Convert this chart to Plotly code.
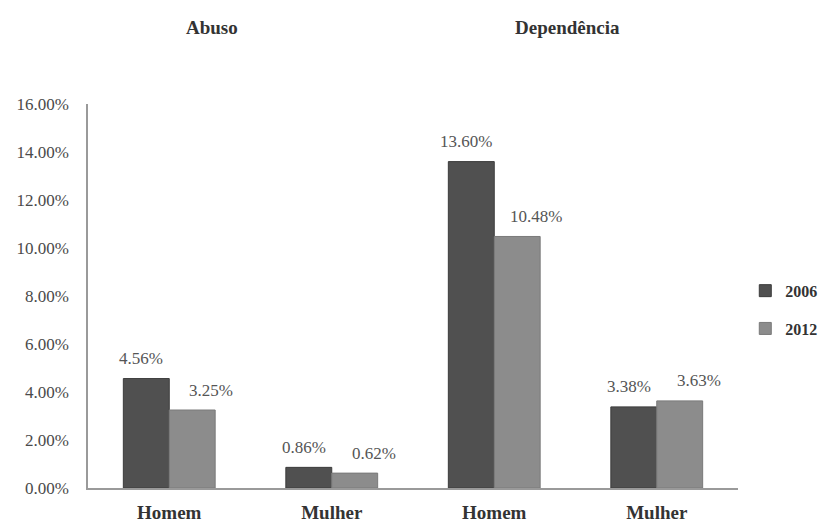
import plotly.graph_objects as go

# Prevalence of alcohol abuse and dependence by sex, 2006 vs 2012
groups = ["Abuso", "Dependência"]
sexes = ["Homem", "Mulher"]
categories = ["Abuso|Homem", "Abuso|Mulher", "Dependência|Homem", "Dependência|Mulher"]
tick_labels = ["Homem", "Mulher", "Homem", "Mulher"]
values_2006 = [4.56, 0.86, 13.60, 3.38]
values_2012 = [3.25, 0.62, 10.48, 3.63]
y_ticks = [0, 2, 4, 6, 8, 10, 12, 14, 16]

SERIF = "Liberation Serif, Times New Roman, serif"
DARK = "#505050"
LIGHT = "#8c8c8c"

fig = go.Figure()
fig.add_trace(go.Bar(
    x=categories, y=values_2006, name="2006",
    marker=dict(color=DARK, line=dict(color="#3c3c3c", width=1)),
    legendgroup="a",
))
fig.add_trace(go.Bar(
    x=categories, y=values_2012, name="2012",
    marker=dict(color=LIGHT, line=dict(color="#7a7a7a", width=1)),
    legendgroup="b",
))

# value labels above each bar
annotations = []
for cat, v in zip(categories, values_2006):
    annotations.append(dict(
        x=cat, y=v, xref="x", yref="y", text=f"{v:.2f}%",
        showarrow=False, xshift=-28, yshift=20, yanchor="middle",
        font=dict(family=SERIF, size=17, color="#555555"),
    ))
for cat, v in zip(categories, values_2012):
    annotations.append(dict(
        x=cat, y=v, xref="x", yref="y", text=f"{v:.2f}%",
        showarrow=False, xshift=42, yshift=20, yanchor="middle",
        font=dict(family=SERIF, size=17, color="#555555"),
    ))

# panel headings
for label, px in zip(groups, [0.19, 0.738]):
    annotations.append(dict(
        x=px, y=1.2, xref="paper", yref="paper", text=f"<b>{label}</b>",
        showarrow=False, xanchor="center", yanchor="middle",
        font=dict(family=SERIF, size=19, color="#333333"),
    ))

fig.update_layout(
    width=819, height=525,
    margin=dict(l=88, r=81, t=104, b=37, autoexpand=False),
    paper_bgcolor="white", plot_bgcolor="white",
    barmode="group", bargap=0.435, bargroupgap=0,
    showlegend=True,
    legend=dict(
        xref="container", yref="container",
        x=0.91, y=0.41, xanchor="left", yanchor="middle",
        font=dict(family=SERIF, size=16, color="#333333", weight="bold"),
        tracegroupgap=14, itemwidth=30, bgcolor="rgba(0,0,0,0)",
    ),
    annotations=annotations,
    font=dict(family=SERIF),
)
fig.update_xaxes(
    tickvals=categories, ticktext=[f"<b>{t}</b>" for t in tick_labels],
    tickfont=dict(family=SERIF, size=19, color="#333333"),
    showline=True, linecolor="#9a9a9a", linewidth=2,
    ticks="", ticklabelstandoff=6, showgrid=False, zeroline=False,
    automargin=False,
)
fig.update_yaxes(
    range=[0, 16], tickvals=y_ticks,
    ticktext=[f"{t:.2f}%" for t in y_ticks],
    tickfont=dict(family=SERIF, size=17, color="#4a4a4a"),
    showline=True, linecolor="#9a9a9a", linewidth=1.5,
    ticks="", ticklabelstandoff=14, showgrid=False, zeroline=False,
    automargin=False,
)

fig.write_html("out.html")
